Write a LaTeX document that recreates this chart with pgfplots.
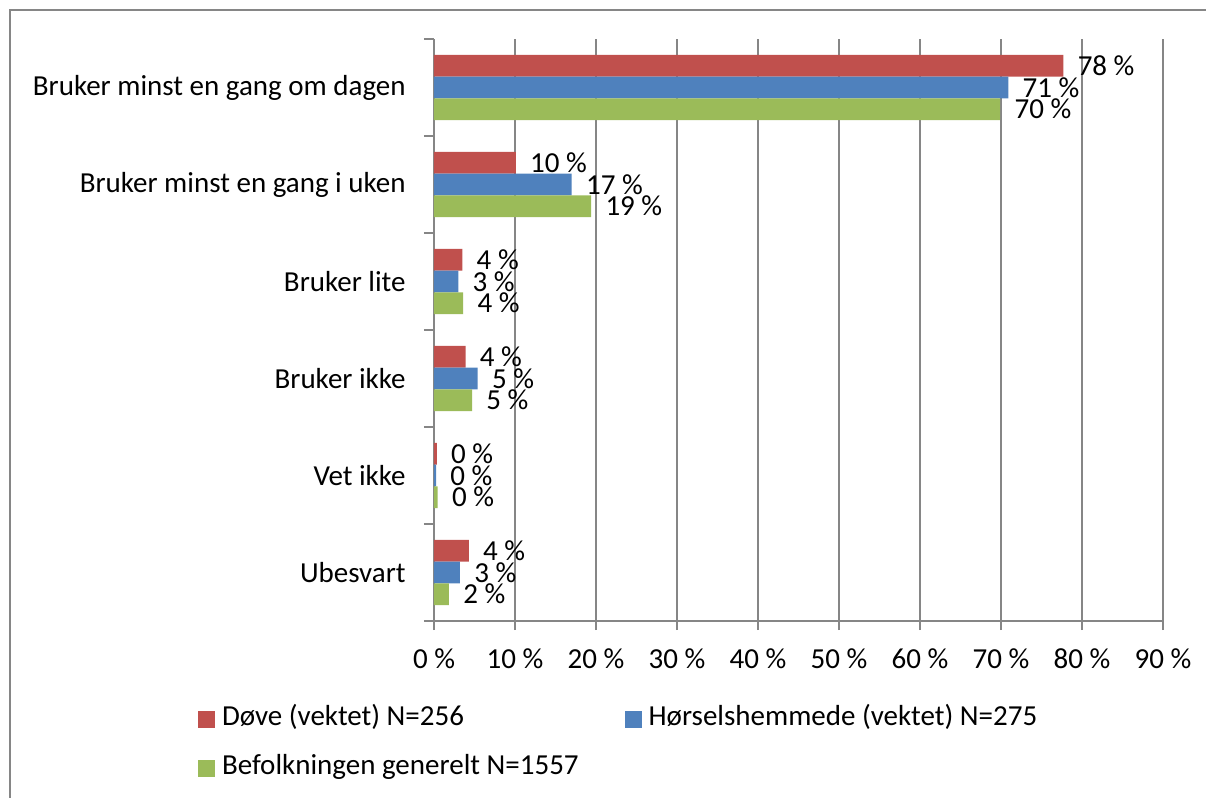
\documentclass[border=0pt]{standalone}
\usepackage{pgfplots}
\usepackage{pgfplotstable}
\pgfplotsset{compat=1.18}
\usepackage{fontspec}
\setmainfont{Carlito}
\definecolor{cred}{HTML}{C0504D}
\definecolor{cblue}{HTML}{4F81BD}
\definecolor{cgreen}{HTML}{9BBB59}
\definecolor{cgrid}{HTML}{868686}

% y: 5 = Bruker minst en gang om dagen ... 0 = Ubesvart
\pgfplotstableread{
y x label
5 77.7 78
4 10.1 10
3 3.5 4
2 3.9 4
1 0.35 0
0 4.3 4
}\dove
\pgfplotstableread{
y x label
5 70.9 71
4 17.0 17
3 3.0 3
2 5.4 5
1 0.25 0
0 3.2 3
}\horsel
\pgfplotstableread{
y x label
5 69.9 70
4 19.4 19
3 3.6 4
2 4.7 5
1 0.45 0
0 1.85 2
}\befolk

\begin{document}
\fontsize{14.5pt}{17.4pt}\selectfont
\begin{tikzpicture}
\draw[cgrid, line width=1pt] (5pt,-399pt) -- (5pt,-5pt) -- (603pt,-5pt);
\begin{axis}[
  at={(217pt,-310.5pt)}, anchor=south west,
  scale only axis, width=364.5pt, height=291pt,
  xbar, bar width=10.85pt,
  xmin=0, xmax=90, ymin=-0.5, ymax=5.5,
  enlargelimits=false, clip=false,
  axis x line*=bottom, axis y line*=left,
  axis line style={cgrid, line width=1pt},
  xmajorgrids, grid style={cgrid, line width=1pt},
  xtick={0,10,...,90},
  xticklabels={0~\%,10~\%,20~\%,30~\%,40~\%,50~\%,60~\%,70~\%,80~\%,90~\%},
  ytick={0,...,5},
  yticklabels={Ubesvart, Vet ikke, Bruker ikke, Bruker lite, Bruker minst en gang i uken, Bruker minst en gang om dagen},
  minor ytick={-0.5,0.5,...,5.5},
  tick align=outside,
  major tick length=4.5pt, minor tick length=5pt,
  every tick/.style={cgrid, line width=1pt},
  every major y tick/.style={draw=none},
  xticklabel style={inner sep=0pt, anchor=north, yshift=-9pt},
  yticklabel style={inner sep=0pt, anchor=east, xshift=-9.5pt},
  point meta=explicit symbolic,
  nodes near coords={\pgfplotspointmeta~\%},
  every node near coord/.append style={anchor=west, inner sep=0pt, xshift=7pt, black},
  legend image code/.code={\fill[#1] (0pt,-1.25pt) rectangle (8.5pt,7.25pt);},
  legend style={draw=none, fill=none, inner sep=0pt, outer sep=0pt,
    nodes={inner sep=0pt, anchor=base west},
    at={(-0.3237,-0.1426)}, anchor=north west,
    /tikz/every odd column/.append style={column sep=3.5pt},
    /tikz/every even column/.append style={column sep=23pt},
    row sep=12.5pt},
  legend columns=2,
  legend cell align=left,
]
\addplot[fill=cred, draw=none, bar shift=10.85pt] table[x=x, y=y, meta=label] {\dove};
\addplot[fill=cblue, draw=none, bar shift=0pt] table[x=x, y=y, meta=label] {\horsel};
\addplot[fill=cgreen, draw=none, bar shift=-10.85pt] table[x=x, y=y, meta=label] {\befolk};
\legend{Døve (vektet) N=256, Hørselshemmede (vektet) N=275, Befolkningen generelt N=1557}
\end{axis}
\pgfresetboundingbox
\path (0pt,0pt) rectangle (603pt,-399pt);
\end{tikzpicture}
\end{document}
